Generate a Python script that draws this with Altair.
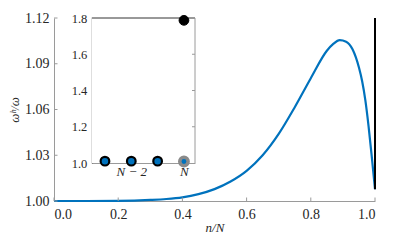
import altair as alt
import pandas as pd

# ---- data ----
n_over_N = [0.0, 0.1, 0.2, 0.25, 0.3, 0.35, 0.4, 0.45, 0.5, 0.55, 0.6, 0.65, 0.7,
            0.75, 0.8, 0.85, 0.87, 0.89, 0.91, 0.93, 0.95, 0.96, 0.97, 0.98, 0.99, 1.0]
ratio = [1.0, 1.0, 1.0001, 1.0003, 1.0007, 1.0013, 1.0024, 1.0045, 1.0078, 1.0128,
         1.0198, 1.0300, 1.0440, 1.0615, 1.0805, 1.0985, 1.1030, 1.1055, 1.1045,
         1.0995, 1.0875, 1.0785, 1.0660, 1.0490, 1.0290, 1.0077]
spike_x = [1.0]
spike_low = [1.0077]
spike_top_visible = [1.12]

inset_idx = [0, 1, 2]
inset_vals = [1.01, 1.01, 1.01]
last_idx = [3]
last_low = [1.008]
last_high = [1.787]

x_ticks = [0.0, 0.2, 0.4, 0.6, 0.8, 1.0]
y_ticks = [1.00, 1.03, 1.06, 1.09, 1.12]
inset_y_ticks = [1.0, 1.2, 1.4, 1.6, 1.8]
inset_x_ticks = [1, 3]

# ---- styling ----
W, H = 321, 183
FONT = "Liberation Serif"
BLUE = "#0072BD"
AXC = "#9a9a9a"
TXT = "#262626"
IN_X0, IN_X1 = 37.8, 141.0
IN_Y1 = 145.0

xs = alt.Scale(domain=[0, 1], nice=False)
ys = alt.Scale(domain=[1.0, 1.12], nice=False, zero=False)

common = dict(labelFont=FONT, titleFont=FONT, labelColor=TXT, titleColor=TXT,
              titleFontWeight="normal", grid=False, tickSize=0)

x_axis = alt.Axis(values=x_ticks, format=".1f", title="n/N",
                  labelPadding=6, titlePadding=0, titleFontStyle="italic",
                  domainColor=AXC, labelFontSize=14, titleFontSize=13, **common)
y_axis = alt.Axis(values=y_ticks, format=".2f", title="ωʰ/ω",
                  labelPadding=5, titlePadding=3, titleFontStyle="italic",
                  domainColor=AXC, labelFontSize=14, titleFontSize=13, **common)

main_df = pd.DataFrame({"x": n_over_N, "y": ratio})
line = alt.Chart(main_df).mark_line(color=BLUE, strokeWidth=2.2, interpolate="monotone").encode(
    x=alt.X("x:Q", scale=xs, axis=x_axis),
    y=alt.Y("y:Q", scale=ys, axis=y_axis),
)

spike_df = pd.DataFrame({"x": spike_x, "y": spike_low, "y2": spike_top_visible})
spike = alt.Chart(spike_df).mark_rule(color="black", strokeWidth=2).encode(
    x=alt.X("x:Q", scale=xs, axis=x_axis),
    y=alt.Y("y:Q", scale=ys, axis=y_axis),
    y2="y2:Q",
)

xt_df = pd.DataFrame({"x": x_ticks})
xtick = alt.Chart(xt_df).mark_rule(color=AXC, strokeWidth=1).encode(
    x=alt.X("x:Q", scale=xs, axis=x_axis),
    y=alt.value(H), y2=alt.value(H - 3.5),
)
yt_df = pd.DataFrame({"y": y_ticks})
ytick = alt.Chart(yt_df).mark_rule(color=AXC, strokeWidth=1).encode(
    y=alt.Y("y:Q", scale=ys, axis=y_axis),
    x=alt.value(0), x2=alt.value(3.5),
)

main = alt.layer(line, spike, xtick, ytick)

# ---- inset ----
ixs = alt.Scale(domain=[-0.5, 3.42], range=[IN_X0, IN_X1], nice=False, zero=False)
iys = alt.Scale(domain=[1.0, 1.8], range=[IN_Y1, 0], nice=False, zero=False)

ix_axis = alt.Axis(orient="bottom", offset=-(H - IN_Y1), values=inset_x_ticks,
                   labelExpr="datum.value == 3 ? 'N' : 'N − 2'",
                   labelFontStyle="italic", labelPadding=2,
                   domainColor=AXC, labelFontSize=13, title=None, **common)
iy_axis = alt.Axis(orient="left", offset=-IN_X0, values=inset_y_ticks,
                   format=".1f", labelPadding=5,
                   domainColor="#333333", labelFontSize=12.5, title=None, **common)

bg = alt.Chart(pd.DataFrame({"a": [0]})).mark_rect(fill="white").encode(
    x=alt.value(IN_X0), x2=alt.value(IN_X1), y=alt.value(0), y2=alt.value(IN_Y1)
)

frame_top = alt.Chart(pd.DataFrame({"a": [0]})).mark_rule(color="#333333", strokeWidth=1).encode(
    x=alt.value(IN_X0), x2=alt.value(IN_X1), y=alt.value(0)
)
frame_right = alt.Chart(pd.DataFrame({"a": [0]})).mark_rule(color=AXC, strokeWidth=1).encode(
    x=alt.value(IN_X1), y=alt.value(0), y2=alt.value(IN_Y1)
)
iyt_df = pd.DataFrame({"v": inset_y_ticks[1:-1]})
iytick = alt.Chart(iyt_df).mark_rule(color=AXC, strokeWidth=1).encode(
    y=alt.Y("v:Q", scale=iys, axis=iy_axis),
    x=alt.value(IN_X1 - 3), x2=alt.value(IN_X1),
)

pts_df = pd.DataFrame({"i": inset_idx, "v": inset_vals})
pts = alt.Chart(pts_df).mark_point(filled=True, fill=BLUE, stroke="black", strokeWidth=2.2,
                                   size=75, opacity=1).encode(
    x=alt.X("i:Q", scale=ixs, axis=ix_axis),
    y=alt.Y("v:Q", scale=iys, axis=iy_axis),
)

low_df = pd.DataFrame({"i": last_idx, "v": last_low})
last_low_pt = alt.Chart(low_df).mark_point(filled=True, fill=BLUE, stroke="#8a8a8a",
                                           strokeWidth=3.5, size=70, opacity=1).encode(
    x=alt.X("i:Q", scale=ixs, axis=ix_axis),
    y=alt.Y("v:Q", scale=iys, axis=iy_axis),
)
high_df = pd.DataFrame({"i": last_idx, "v": last_high})
last_high_pt = alt.Chart(high_df).mark_point(filled=True, fill="black", stroke="black",
                                             strokeWidth=1, size=95, opacity=1).encode(
    x=alt.X("i:Q", scale=ixs, axis=ix_axis),
    y=alt.Y("v:Q", scale=iys, axis=iy_axis),
)

inset = alt.layer(bg, frame_top, frame_right, iytick, pts, last_low_pt, last_high_pt)

chart = alt.layer(main, inset).resolve_scale(x="independent", y="independent").properties(
    width=W, height=H,
    autosize=alt.AutoSizeParams(type="none"),
    padding={"left": 46, "top": 10, "right": 20, "bottom": 34},
    background="white",
).configure_view(stroke=None)

chart.save("out.html", embed_options={"renderer": "svg", "actions": False})
